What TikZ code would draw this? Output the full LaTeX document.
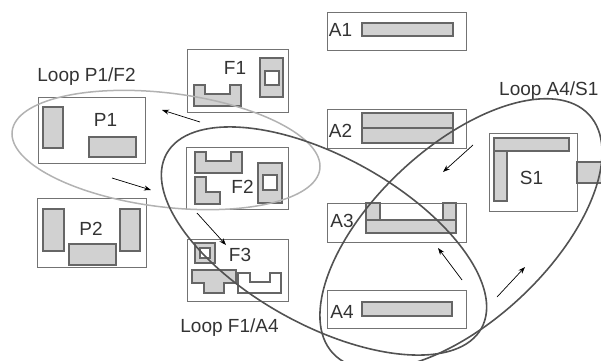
\documentclass[tikz,border=0pt]{standalone}
\usepackage{fontspec}
\setmainfont{Liberation Sans}
\usetikzlibrary{arrows.meta}

\tikzset{
    unit/.style={draw=black!55, line width=0.8pt, inner sep=0pt},
    part/.style={draw=black!60, fill=black!18, line width=1.1pt},
    hole/.style={draw=black!60, fill=white, line width=1.1pt},
    tag/.style={font=\fontsize{19}{19}\selectfont, text=black!80, inner sep=0pt, anchor=base},
    flow/.style={-{Stealth[length=7pt, width=5pt]}, line width=0.7pt},
    loopdark/.style={draw=black!68, line width=1.6pt},
    looplight/.style={draw=black!30, line width=1.5pt}
}

\begin{document}
\begin{tikzpicture}[x=1pt, y=-1pt]
    \useasboundingbox (0,0) rectangle (601,360);

    % Press cells (left)
    \node[unit, minimum width=107, minimum height=66] (p1) at (91.5,130) {};
    \node[tag] (p1tag) at (105.5,126) {P1};
    \draw[part] (43,107) rectangle (63,148);
    \draw[part] (89,137) rectangle (136,157);

    \node[unit, minimum width=109, minimum height=69] (p2) at (91.5,232.5) {};
    \node[tag] (p2tag) at (91,235) {P2};
    \draw[part] (43,209) rectangle (64,251);
    \draw[part] (120,209) rectangle (140,251);
    \draw[part] (69,244) rectangle (116,265);

    % Fabrication cells (middle)
    \node[unit, minimum width=101, minimum height=63] (f1) at (237.5,80.5) {};
    \node[tag] (f1tag) at (235,74) {F1};
    \draw[part] (194,85) -- (205,85) -- (205,94) -- (230,94) -- (230,85) -- (241,85) -- (241,106) -- (194,106) -- cycle;
    \draw[part] (260,58) rectangle (283,97);
    \draw[hole] (265,71) rectangle (279,85);

    \node[unit, minimum width=102, minimum height=62] (f2) at (237,178) {};
    \node[tag] (f2tag) at (242.5,193) {F2};
    \draw[part] (195,152) -- (206,152) -- (206,161) -- (231,161) -- (231,152) -- (242,152) -- (242,173) -- (195,173) -- cycle;
    \draw[part] (195,177) -- (206,177) -- (206,192) -- (220,192) -- (220,204) -- (195,204) -- cycle;
    \draw[part] (258,163) rectangle (282,203);
    \draw[hole] (263,175) rectangle (277,190);

    \node[unit, minimum width=101, minimum height=62] (f3) at (237.5,270) {};
    \node[tag] (f3tag) at (240,261) {F3};
    \draw[part] (195,243) rectangle (215,263);
    \draw[hole] (200,248) rectangle (210,258);
    \draw[part] (192,270) -- (236,270) -- (236,283) -- (224,283) -- (224,293) -- (204,293) -- (204,283) -- (192,283) -- cycle;
    \draw[hole] (238,273) -- (250,273) -- (250,282) -- (270,282) -- (270,273) -- (281,273) -- (281,293) -- (238,293) -- cycle;

    % Assembly cells (right column)
    \node[unit, minimum width=139, minimum height=38] (a1) at (396.5,31) {};
    \node[tag] (a1tag) at (340.5,36) {A1};
    \draw[part] (362,23) rectangle (453,36);

    \node[unit, minimum width=139, minimum height=39] (a2) at (396.5,128.5) {};
    \node[tag] (a2tag) at (340.5,137) {A2};
    \draw[part] (362,113) rectangle (453,128);
    \draw[part] (362,128) rectangle (453,143);

    \node[unit, minimum width=139, minimum height=39] (a3) at (396.5,222.5) {};
    \node[tag] (a3tag) at (342,227) {A3};
    \draw[part] (366,203) rectangle (380,220);
    \draw[part] (443,203) rectangle (456,220);
    \draw[part] (366,220) rectangle (456,233);

    \node[unit, minimum width=139, minimum height=38] (a4) at (396.5,309) {};
    \node[tag] (a4tag) at (342,318) {A4};
    \draw[part] (362,302) rectangle (452,316);

    % Shipping cell
    \node[unit, minimum width=88, minimum height=78] (s1) at (533,172) {};
    \node[tag] (s1tag) at (531.5,184) {S1};
    \draw[part] (494,138) rectangle (569,151);
    \draw[part] (494,151) rectangle (507,201);
    \draw[part] (577,162) rectangle (606,183);

    % Loops
    \draw[looplight, rotate around={-7:(166,150)}] (166,150) ellipse [x radius=155, y radius=57];
    \draw[loopdark, rotate around={-29:(324,241)}] (324,241) ellipse [x radius=180, y radius=84];
    \draw[loopdark, rotate around={43:(461,234)}] (461,234) ellipse [x radius=175, y radius=87];
    \node[tag] (loopa) at (86.5,81) {Loop P1/F2};
    \node[tag] (loopb) at (229.5,332) {Loop F1/A4};
    \node[tag, anchor=base west] (loopc) at (499,95) {Loop A4/S1};

    % Flow arrows
    \coordinate (f1out) at (200,122);
    \coordinate (p1in) at (162,110);
    \coordinate (p1out) at (112,178);
    \coordinate (f2in) at (151,190);
    \coordinate (f2out) at (197,213);
    \coordinate (f3in) at (226,245);
    \coordinate (a2out) at (473,145);
    \coordinate (a3in) at (443,172);
    \coordinate (a4out) at (462,280);
    \coordinate (a3up) at (438,248);
    \coordinate (a4ship) at (497,297);
    \coordinate (s1in) at (525,267);
    \draw[flow] (f1out) -- (p1in);
    \draw[flow] (p1out) -- (f2in);
    \draw[flow] (f2out) -- (f3in);
    \draw[flow] (a2out) -- (a3in);
    \draw[flow] (a4out) -- (a3up);
    \draw[flow] (a4ship) -- (s1in);
\end{tikzpicture}
\end{document}
